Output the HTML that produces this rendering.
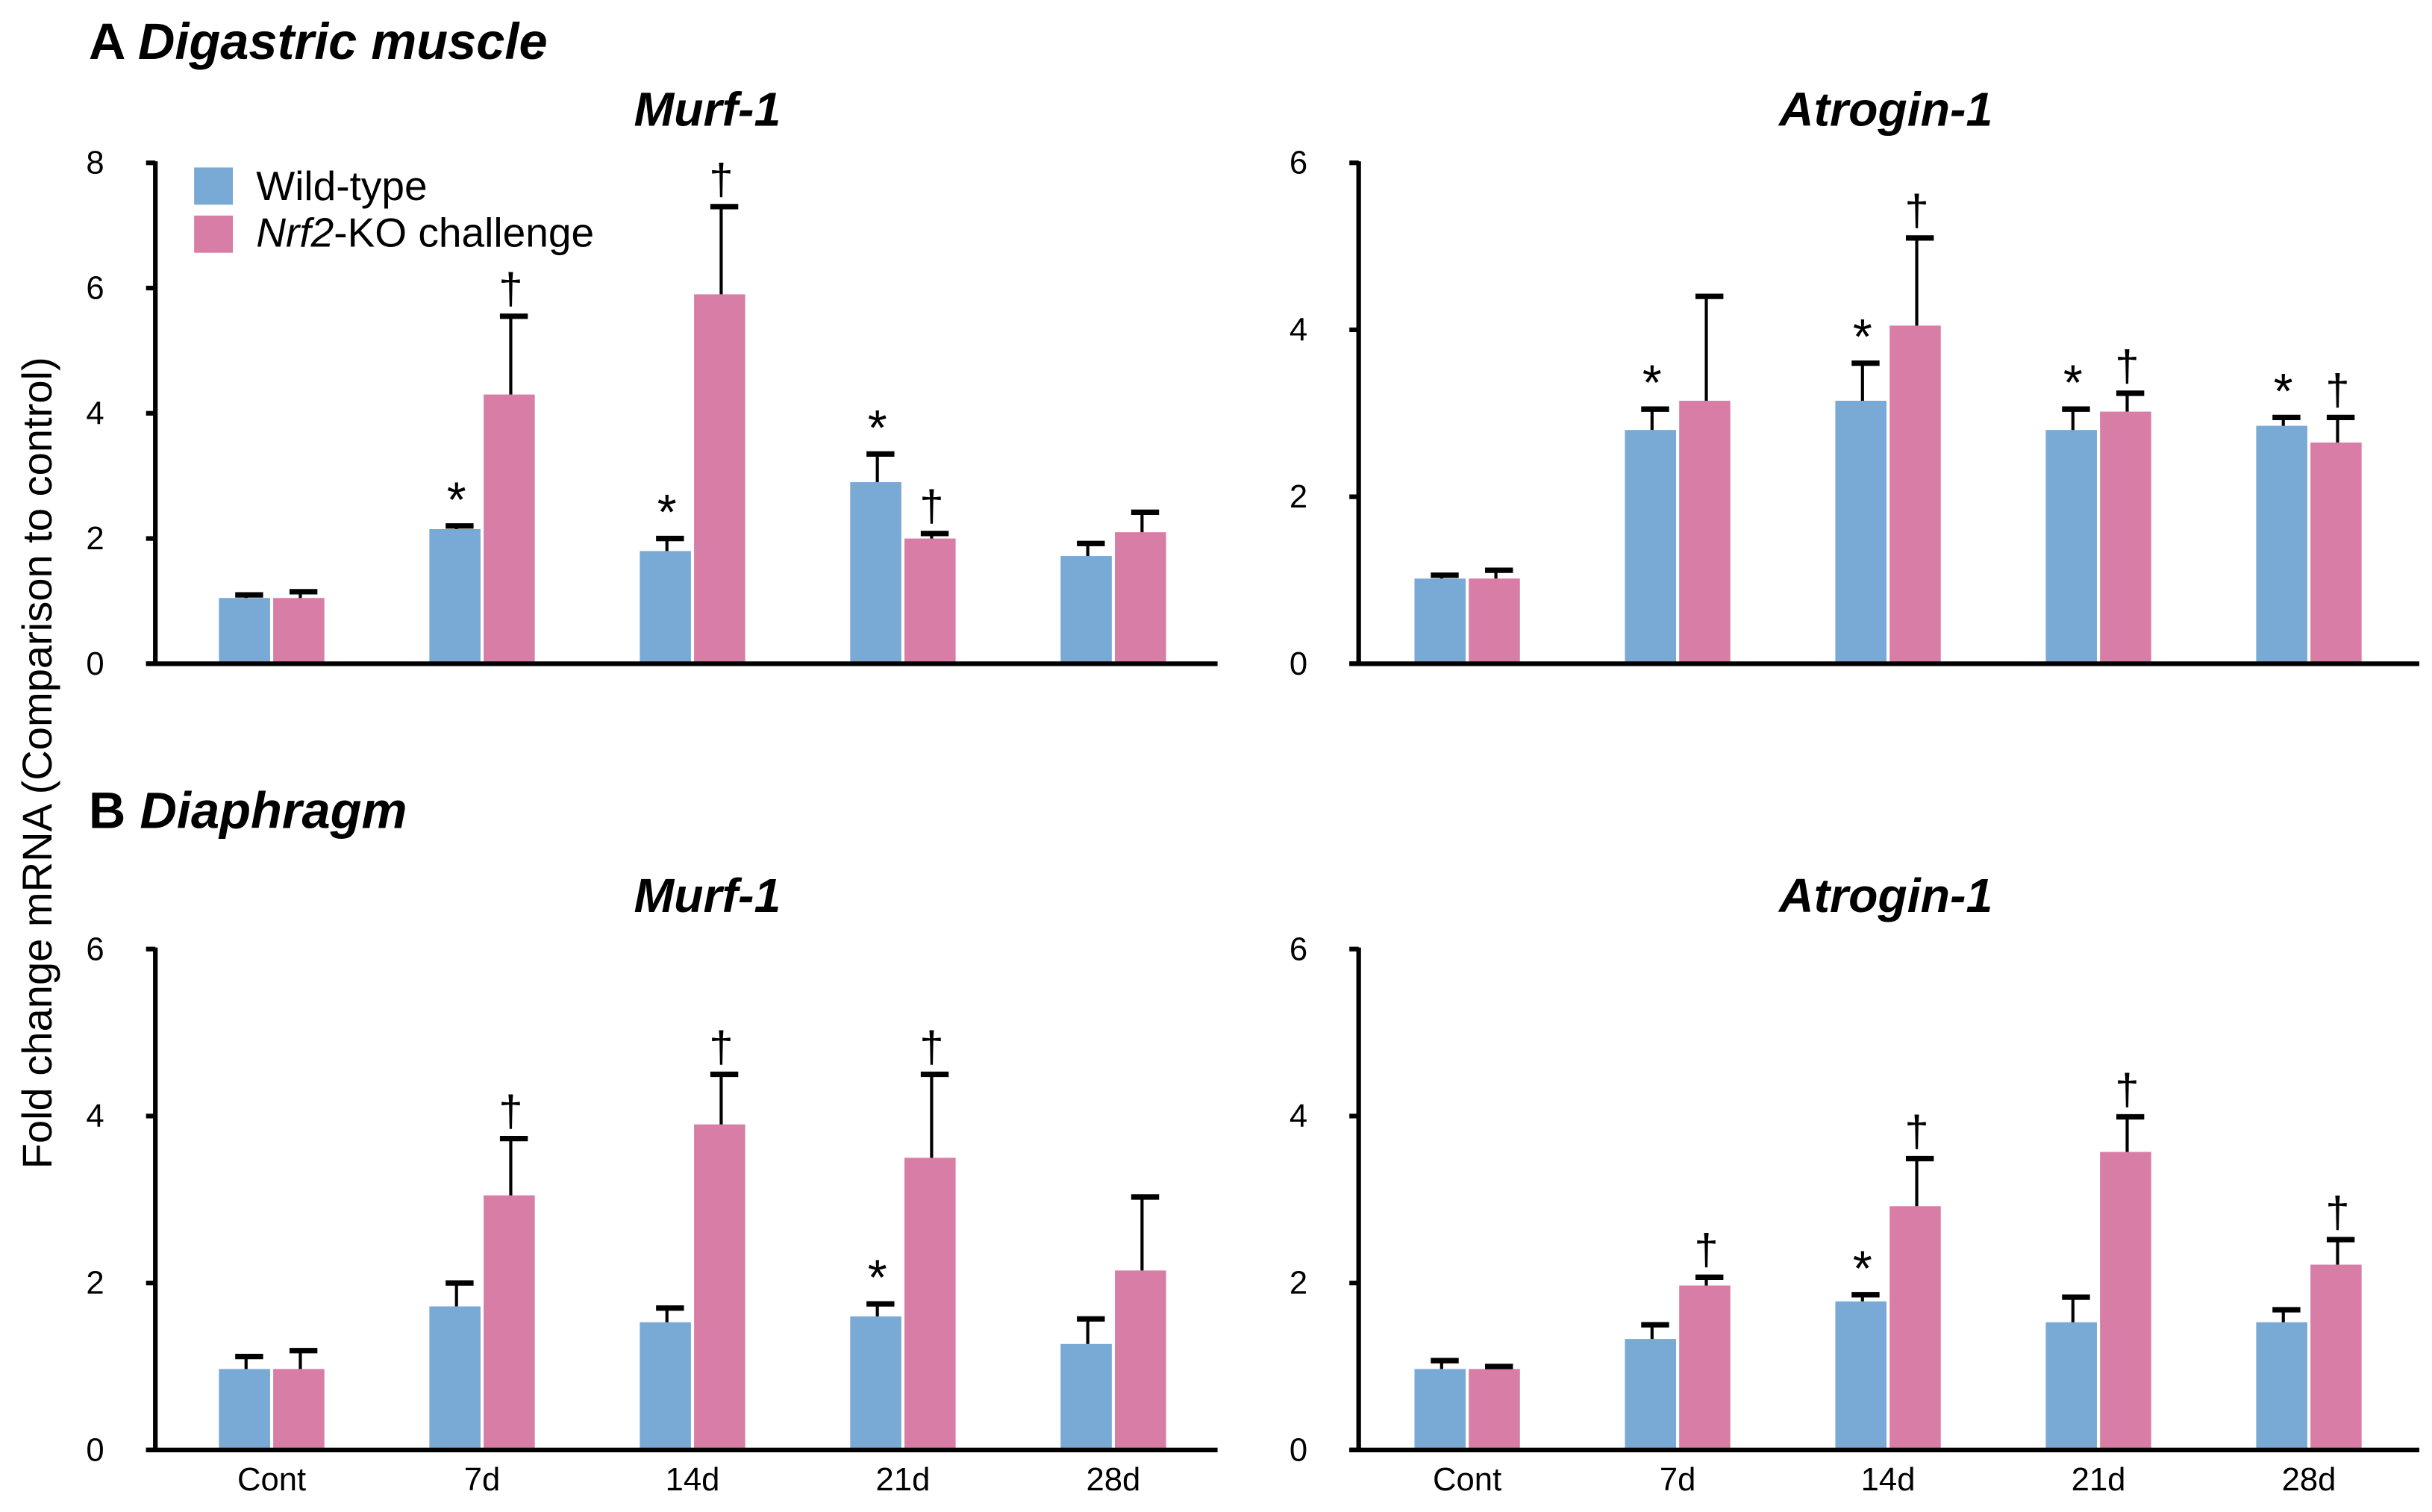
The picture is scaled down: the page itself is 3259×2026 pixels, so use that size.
<!DOCTYPE html>
<html><head><meta charset="utf-8"><style>
html,body{margin:0;padding:0;background:#fff;}
svg{display:block;}
text{font-family:"Liberation Sans",Arial,sans-serif;fill:#000;}
</style></head><body>
<svg id="chart" width="3259" height="2026" viewBox="0 0 1568 975" xmlns="http://www.w3.org/2000/svg">
<text x="57" y="38" font-size="33" font-weight="bold"><tspan>A </tspan><tspan font-style="italic">Digastric muscle</tspan></text>
<text x="57" y="534" font-size="33" font-weight="bold"><tspan>B </tspan><tspan font-style="italic">Diaphragm</tspan></text>
<text transform="translate(33,492) rotate(-90)" text-anchor="middle" font-size="27">Fold change mRNA (Comparison to control)</text>
<g>
<rect x="125" y="108" width="25" height="24" fill="#79aad5"/>
<text x="165" y="129" font-size="26.5">Wild-type</text>
<rect x="125" y="139" width="25" height="24" fill="#d87ea6"/>
<text x="165" y="159" font-size="26.5"><tspan font-style="italic">Nrf2</tspan>-KO challenge</text>
</g>
</svg>
<script>
const categories = ["Cont","7d","14d","21d","28d"];
// Panel A Murf-1
const aMurfWT = [1.05,2.15,1.8,2.9,1.72];
const aMurfWTErr = [0.05,0.05,0.2,0.45,0.2];
const aMurfKO = [1.05,4.3,5.9,2.0,2.1];
const aMurfKOErr = [0.1,1.25,1.4,0.08,0.32];
const aMurfWTSig = ["","*","*","*",""];
const aMurfKOSig = ["","†","†","†",""];
// Panel A Atrogin-1
const aAtroWT = [1.02,2.8,3.15,2.8,2.85];
const aAtroWTErr = [0.04,0.25,0.45,0.25,0.1];
const aAtroKO = [1.02,3.15,4.05,3.02,2.65];
const aAtroKOErr = [0.1,1.25,1.05,0.22,0.3];
const aAtroWTSig = ["","*","*","*","*"];
const aAtroKOSig = ["","","†","†","†"];
// Panel B Murf-1
const bMurfWT = [0.97,1.72,1.53,1.6,1.27];
const bMurfWTErr = [0.15,0.28,0.17,0.15,0.3];
const bMurfKO = [0.97,3.05,3.9,3.5,2.15];
const bMurfKOErr = [0.22,0.68,0.6,1.0,0.88];
const bMurfWTSig = ["","","","*",""];
const bMurfKOSig = ["","†","†","†",""];
// Panel B Atrogin-1
const bAtroWT = [0.97,1.33,1.78,1.53,1.53];
const bAtroWTErr = [0.1,0.17,0.08,0.3,0.15];
const bAtroKO = [0.97,1.97,2.92,3.57,2.22];
const bAtroKOErr = [0.03,0.1,0.57,0.42,0.3];
const bAtroWTSig = ["","","*","",""];
const bAtroKOSig = ["","†","†","†","†"];
const ticksA1 = [0,2,4,6,8];
const ticks6 = [0,2,4,6];

const NS="http://www.w3.org/2000/svg";
const svg=document.getElementById('chart');
function mk(tag,attrs,parent){const e=document.createElementNS(NS,tag);for(const k in attrs)e.setAttribute(k,attrs[k]);(parent||svg).appendChild(e);return e;}

function panel(id,title,ax,ax2,c0,titleX,top,bottom,ymax,ticks,wt,wtE,ko,koE,wtS,koS,showX){
  const g=mk('g',{});
  
  
  const y=v=>bottom-(v/ymax)*(bottom-top);
  const step=135.7;
  const x=i=>c0+i*step;
  const t=mk('text',{x:titleX,y:top-24,'text-anchor':'middle','font-size':31,'font-weight':'bold','font-style':'italic'},g);
  t.textContent=title;
  
  
  for(let i=0;i<categories.length;i++){
    const bw=33;
    const series=[[wt,wtE,wtS,'#79aad5',x(i)-34,'wt'],[ko,koE,koS,'#d87ea6',x(i)+1,'ko']];
    for(const [v,e,s,col,bx,nm] of series){
      const r=mk('rect',{x:bx,y:y(v[i]),width:bw,height:bottom-y(v[i]),fill:col},g);
      
      
      const cx=bx+bw/2+1, ty=y(v[i]+e[i]);
      const l=mk('line',{x1:cx,x2:cx,y1:y(v[i]),y2:ty,stroke:'#000','stroke-width':2},g);
      
      
      const cp=mk('line',{x1:cx-7,x2:cx+11,y1:ty,y2:ty,stroke:'#000','stroke-width':3.5},g);
      
      
      if(s[i]){
        const st=mk('text',{x:cx,y:s[i]==='*'?ty-6:ty-8,'text-anchor':'middle','font-size':s[i]==='*'?32:28},g);
        st.textContent=s[i];
        
        
      }
    }
    if(showX){
      const xl=mk('text',{x:x(i),y:bottom+26,'text-anchor':'middle','font-size':21},g);
      xl.textContent=categories[i];
      
      
    }
  }
  const ya=mk('line',{x1:ax,x2:ax,y1:top-1,y2:bottom,stroke:'#000','stroke-width':3},g);
  
  
  const xa=mk('line',{x1:ax-6,x2:ax2,y1:bottom,y2:bottom,stroke:'#000','stroke-width':3},g);
  
  
  for(const tv of ticks){
    const tk=mk('line',{x1:ax-6,x2:ax,y1:y(tv),y2:y(tv),stroke:'#000','stroke-width':3},g);
    
    
    const tl=mk('text',{x:ax-33,y:y(tv)+7,'text-anchor':'end','font-size':21},g);
    tl.textContent=tv;
    
    
  }
}
panel('panel-a-murf1','Murf-1',100,785,175,456,105,428,8,ticksA1,aMurfWT,aMurfWTErr,aMurfKO,aMurfKOErr,aMurfWTSig,aMurfKOSig,false);
panel('panel-a-atrogin1','Atrogin-1',876,1560,946,1216,105,428,6,ticks6,aAtroWT,aAtroWTErr,aAtroKO,aAtroKOErr,aAtroWTSig,aAtroKOSig,false);
panel('panel-b-murf1','Murf-1',100,785,175,456,612,935,6,ticks6,bMurfWT,bMurfWTErr,bMurfKO,bMurfKOErr,bMurfWTSig,bMurfKOSig,true);
panel('panel-b-atrogin1','Atrogin-1',876,1560,946,1216,612,935,6,ticks6,bAtroWT,bAtroWTErr,bAtroKO,bAtroKOErr,bAtroWTSig,bAtroKOSig,true);
</script>
</body></html>
